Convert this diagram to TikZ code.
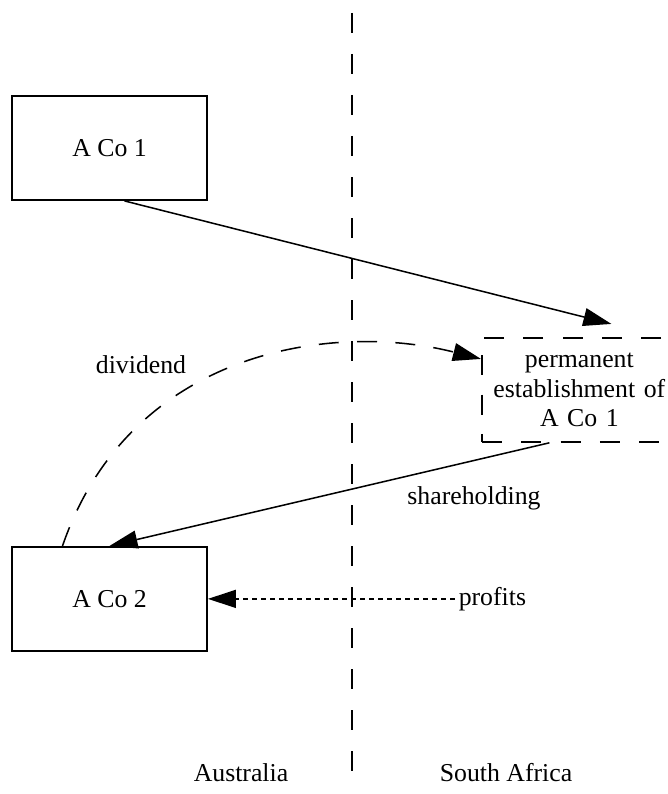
\documentclass[tikz,border=0pt]{standalone}
\usepackage{fontspec}
\setmainfont{Liberation Serif}
\usepackage{tikz}
\usetikzlibrary{positioning,arrows.meta}
\tikzset{
  entity/.style={rectangle, draw, line width=1.6pt, minimum width=5.85cm,
                 minimum height=3.12cm, align=center},
  branch/.style={entity, dash pattern=on 0.6cm off 0.58cm, text width=5.45cm,
                 inner sep=0.2cm},
  flow/.style={-{Triangle[length=0.84cm,width=0.54cm]}, line width=1.3pt},
  paid/.style={flow, dash pattern=on 0.6cm off 0.55cm},
  earned/.style={flow, dash pattern=on 0.15cm off 0.12cm},
  border/.style={line width=1.3pt, dash pattern=on 0.6cm off 0.63cm},
  region/.style={inner sep=0pt}
}

\begin{document}
\begin{tikzpicture}[font=\fontsize{22}{25}\selectfont]
\useasboundingbox (0,0) rectangle (20.04,-23.82);
% country border
\coordinate (top) at (10.56,-0.39);
\coordinate (bot) at (10.56,-23.6);
\draw[border] (top)--(bot);
\node[region] (au) at (7.23,-23.19) {Australia};
\node[region] (sa) at (15.18,-23.19) {South Africa};
% companies
\node[entity] (a1) at (3.285,-4.44) {A Co 1};
\node[entity, below=10.35cm of a1] (a2) {A Co 2};
\node[branch, below right=4.08cm and 8.19cm of a1] (pe) {permanent\\establishment of\\A Co 1};
% labels
\node (div) at (4.23,-10.95) {dividend};
\node (sh) at (14.22,-14.94) {shareholding};
\node[right=7.4cm of a2] (pr) {profits};
% links
\draw[flow] ([xshift=0.45cm]a1.south)--([xshift=0.96cm,yshift=0.39cm]pe.north);
\draw[flow] ([xshift=-0.9cm]pe.south)--(a2.north);
\draw[paid] ([xshift=-1.41cm]a2.north) .. controls +(2.01,5.85) and +(-4.5,1.14) .. ([yshift=-0.66cm]pe.north west);
\draw[earned] (pr.west)--(a2.east);
\end{tikzpicture}
\end{document}
